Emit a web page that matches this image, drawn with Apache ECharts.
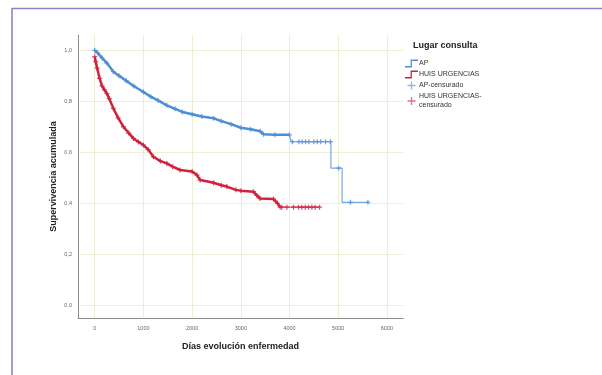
<!DOCTYPE html>
<html>
<head>
<meta charset="utf-8">
<script src="https://cdn.jsdelivr.net/npm/echarts@6/dist/echarts.min.js"></script>
<style>
  html, body { margin: 0; padding: 0; background: #fff; }
  #main { width: 602px; height: 375px; }
</style>
</head>
<body>
<div id="main"></div>
<script>
// Kaplan-Meier curves: [days, survival]
var apCurve = [
  [0, 1.0], [60, 0.99], [150, 0.97], [250, 0.95], [383, 0.916], [500, 0.9],
  [650, 0.88], [800, 0.86], [1000, 0.836], [1150, 0.818], [1300, 0.803],
  [1480, 0.784], [1650, 0.77], [1800, 0.758], [2000, 0.749], [2200, 0.74],
  [2440, 0.733], [2600, 0.722], [2800, 0.71], [3000, 0.696], [3200, 0.69],
  [3400, 0.682], [3466, 0.670], [3700, 0.668], [4000, 0.668]
];
var apTail = [
  [4000, 0.668], [4030, 0.641], [4850, 0.537], [5080, 0.403], [5620, 0.403]
];
var urgCurve = [
  [0, 0.975], [20, 0.955], [50, 0.93], [100, 0.89], [150, 0.86], [200, 0.845],
  [250, 0.83], [300, 0.81], [383, 0.772], [480, 0.735], [589, 0.70],
  [700, 0.675], [795, 0.654], [900, 0.64], [1000, 0.628], [1100, 0.61],
  [1205, 0.582], [1350, 0.565], [1480, 0.556], [1600, 0.543], [1753, 0.53],
  [2000, 0.524], [2100, 0.51], [2164, 0.491], [2440, 0.48], [2600, 0.47],
  [2712, 0.465], [2900, 0.452], [3000, 0.449], [3260, 0.445], [3330, 0.43],
  [3397, 0.418], [3671, 0.416], [3750, 0.40], [3808, 0.384]
];
var urgTail = [
  [3808, 0.384], [4616, 0.384]
];
// censored marks on the flat tails
var apTailMarks = [
  [4060, 0.641], [4190, 0.641], [4260, 0.641], [4330, 0.641], [4400, 0.641],
  [4500, 0.641], [4570, 0.641], [4640, 0.641], [4740, 0.641], [4840, 0.641],
  [5010, 0.537], [5250, 0.403], [5610, 0.403]
];
var urgTailMarks = [
  [3842, 0.384], [3945, 0.384], [4082, 0.384], [4185, 0.384], [4253, 0.384],
  [4322, 0.384], [4390, 0.384], [4459, 0.384], [4527, 0.384], [4616, 0.384]
];
var xTicks = [0, 1000, 2000, 3000, 4000, 5000, 6000];
var yTicks = [0, 0.2, 0.4, 0.6, 0.8, 1.0];

var blue = '#4d8fd6';
var red = '#d2213d';
var plus = 'path://M3,0h2v3h3v2h-3v3h-2v-3h-3v-2h3z';
var thinPlus = 'path://M3.35,0h1.3v3.35h3.35v1.3h-3.35v3.35h-1.3v-3.35h-3.35v-1.3h3.35z';
var stepIcon = 'path://M0,7h6v-7h8v1.4h-6.6v7h-7.4z';

var chart = echarts.init(document.getElementById('main'));

var option = {
  animation: false,
  textStyle: { fontFamily: 'Liberation Sans' },
  grid: { left: 78, right: 199, top: 35, bottom: 57 },
  graphic: [
    {
      type: 'polyline',
      shape: { points: [[12, 375], [12, 8.5], [602, 8.5]] },
      style: { stroke: '#8a84cc', lineWidth: 1.6, fill: null }
    },
    {
      type: 'text', left: 413, top: 41,
      style: { text: 'Lugar consulta', font: 'bold 9px Liberation Sans', fill: '#222' }
    }
  ],
  legend: {
    orient: 'vertical',
    left: 400,
    top: 54,
    itemWidth: 13,
    itemHeight: 8,
    itemGap: 2,
    textStyle: { fontSize: 7, lineHeight: 9, color: '#333', padding: [0, 0, 0, -4] },
    data: [
      { name: 'AP', icon: stepIcon, itemStyle: { color: blue } },
      { name: 'HUIS URGENCIAS', icon: stepIcon, itemStyle: { color: red } },
      { name: 'AP-censurado', icon: thinPlus, itemStyle: { color: '#6fa6e0' } },
      { name: 'HUIS URGENCIAS-\ncensurado', icon: thinPlus, itemStyle: { color: '#dc4a66' } }
    ]
  },
  xAxis: {
    type: 'value',
    min: -343,
    max: 6330,
    name: 'Días evolución enfermedad',
    nameLocation: 'middle',
    nameGap: 24,
    nameTextStyle: { fontSize: 9, fontWeight: 'bold', color: '#222' },
    axisLine: { show: true, onZero: false, lineStyle: { color: '#8c8c8c', width: 1 } },
    axisTick: { show: false, customValues: xTicks },
    axisLabel: {
      customValues: xTicks, fontSize: 5.5, color: '#666', margin: 7,
      formatter: function (v) { return String(v); }
    },
    splitLine: { show: true, lineStyle: { color: '#eeeed6', width: 1 } }
  },
  yAxis: {
    type: 'value',
    min: -0.051,
    max: 1.06,
    name: 'Supervivencia acumulada',
    nameLocation: 'middle',
    nameGap: 20,
    nameMoveOverlap: false,
    nameTextStyle: { fontSize: 9, fontWeight: 'bold', color: '#222' },
    axisLine: { show: true, onZero: false, lineStyle: { color: '#8c8c8c', width: 1 } },
    axisTick: { show: false, customValues: yTicks },
    axisLabel: {
      customValues: yTicks, fontSize: 5.5, color: '#666', margin: 6,
      formatter: function (v) { return v.toFixed(1).replace('.', ','); }
    },
    splitLine: { show: true, lineStyle: { color: '#eeeed6', width: 1 } }
  },
  series: [
    {
      name: 'AP', type: 'line', data: apCurve, showSymbol: false,
      lineStyle: { color: blue, width: 2.5 }, itemStyle: { color: blue }, z: 3
    },
    {
      name: 'AP', type: 'line', step: 'end', data: apTail, showSymbol: false,
      lineStyle: { color: '#78a8de', width: 1.2 }, itemStyle: { color: blue }, z: 3
    },
    {
      name: 'HUIS URGENCIAS', type: 'line', data: urgCurve, showSymbol: false,
      lineStyle: { color: red, width: 2.5 }, itemStyle: { color: red }, z: 3
    },
    {
      name: 'HUIS URGENCIAS', type: 'line', step: 'end', data: urgTail, showSymbol: false,
      lineStyle: { color: '#dc4560', width: 1.2 }, itemStyle: { color: red }, z: 3
    },
    {
      name: 'AP-censurado', type: 'scatter', symbol: plus, symbolSize: 5,
      data: apCurve.concat(apTailMarks), itemStyle: { color: blue }, z: 4
    },
    {
      name: 'HUIS URGENCIAS-\ncensurado', type: 'scatter', symbol: plus, symbolSize: 5,
      data: urgCurve.concat(urgTailMarks), itemStyle: { color: red }, z: 4
    }
  ]
};

chart.setOption(option);
</script>
</body>
</html>
